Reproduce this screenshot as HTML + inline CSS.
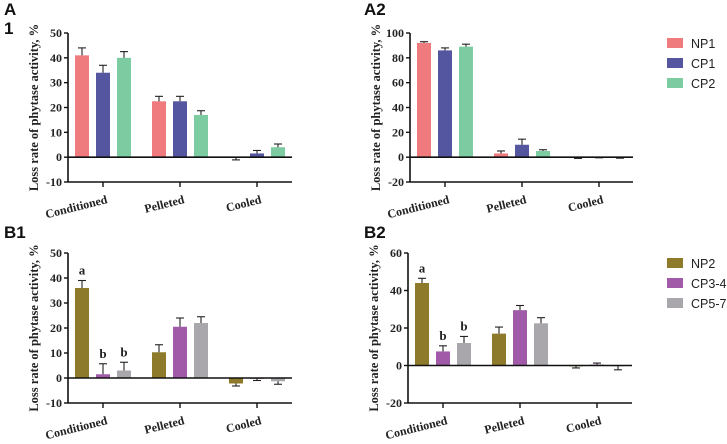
<!DOCTYPE html>
<html><head><meta charset="utf-8">
<style>
html,body{margin:0;padding:0;background:#fff;}
svg{display:block;}
.tk{font:bold 12px "Liberation Serif",serif;fill:#222;}
.yt{font:bold 12.5px "Liberation Serif",serif;fill:#222;}
.pl{font:bold 17px "Liberation Sans",sans-serif;fill:#111;}
.lg{font:12.5px "Liberation Sans",sans-serif;fill:#222;}
</style></head>
<body>
<svg id="chart" width="727" height="444" viewBox="0 0 727 444"></svg>
<script>
const categories = ["Conditioned","Pelleted","Cooled"];
const seriesA = ["NP1","CP1","CP2"];
const colorsA = ["#ef7b7f","#5457a0","#7dcba0"];
const seriesB = ["NP2","CP3-4","CP5-7"];
const colorsB = ["#8e7a2b","#a05aa8","#a9a7ab"];
const a1Values = [[41,22.5,-0.3],[34,22.5,1.5],[40,17,4]];
const a1Errors = [[3,2,0.8],[3,2,1.2],[2.5,1.7,1.3]];
const a2Values = [[92,3,-0.5],[86,10,-0.2],[89,5,-0.5]];
const a2Errors = [[1,2,0.5],[2,4.5,0.3],[2,1,0.3]];
const b1Values = [[36,10.3,-2.2],[1.5,20.5,-0.3],[3,22,-1.3]];
const b1Errors = [[3,3,1],[4.2,3.5,0.7],[3.3,2.5,1.2]];
const b2Values = [[44,17,-0.3],[7.5,29.5,0.5],[12,22.5,-0.3]];
const b2Errors = [[2.5,3.5,1],[3,2.5,0.8],[3.5,3,2]];
const a1Ticks = [-10,0,10,20,30,40,50];
const a2Ticks = [-20,0,20,40,60,80,100];
const b1Ticks = [-10,0,10,20,30,40,50];
const b2Ticks = [-20,0,20,40,60];
const b1Letters = ["a","b","b"];
const b2Letters = ["a","b","b"];

const NS="http://www.w3.org/2000/svg";
const svg=document.getElementById('chart');
function mk(tag,attrs,parent){const e=document.createElementNS(NS,tag);for(const k in attrs)e.setAttribute(k,attrs[k]);(parent||svg).appendChild(e);return e;}

function panel(name,cfg){
  const g=mk('g',{});
  
  
  const ymin=cfg.ticks[0], ymax=cfg.ticks[cfg.ticks.length-1];
  const y=v=>cfg.yTop+(ymax-v)/(ymax-ymin)*(cfg.yBot-cfg.yTop);
  const x=(ci,si)=>cfg.x0+ci*cfg.gap+(si-1)*21;
  const ya=mk('line',{x1:cfg.ax,x2:cfg.ax,y1:cfg.yTop,y2:cfg.yBot,stroke:'#111','stroke-width':1.6},g);
  
  cfg.ticks.forEach(t=>{
    mk('line',{x1:cfg.ax-4,x2:cfg.ax,y1:y(t),y2:y(t),stroke:'#111','stroke-width':1.4},g);
    const tl=mk('text',{x:cfg.ax-6,y:y(t)+4,'text-anchor':'end',class:'tk'},g);tl.textContent=t;
    
  });
  const yt=mk('text',{x:0,y:0,transform:`translate(${cfg.ax-30},${(cfg.yTop+cfg.yBot)/2}) rotate(-90)`,'text-anchor':'middle',class:'yt'},g);
  yt.textContent='Loss rate of phytase activity, %';
  
  cfg.values.forEach((vals,si)=>{
    vals.forEach((v,ci)=>{
      const cx=x(ci,si), y0=y(0), yv=y(v);
      const b=mk('rect',{x:cx-7,y:Math.min(y0,yv),width:14,height:Math.max(Math.abs(y0-yv),0.8),fill:cfg.colors[si]},g);
      
      
      const e=cfg.errors[si][ci], ye=y(v>=0?v+e:v-e);
      mk('line',{x1:cx,x2:cx,y1:yv,y2:ye,stroke:'#222','stroke-width':1.1},g);
      mk('line',{x1:cx-4,x2:cx+4,y1:ye,y2:ye,stroke:'#222','stroke-width':1.1},g);
      if(cfg.letters&&ci===0){
        const lt=mk('text',{x:cx,y:ye-6,'text-anchor':'middle',class:'tk',style:'font-size:13px'},g);
        lt.textContent=cfg.letters[si];
        
      }
    });
  });
  const xa=mk('line',{x1:cfg.ax,x2:cfg.xEnd,y1:y(0),y2:y(0),stroke:'#111','stroke-width':1.6},g);
  
  mk('line',{x1:cfg.ax,x2:cfg.xEnd,y1:cfg.yBot,y2:cfg.yBot,stroke:'#111','stroke-width':1.6},g);
  categories.forEach((c,ci)=>{
    const cx=x(ci,1);
    mk('line',{x1:cx,x2:cx,y1:cfg.yBot,y2:cfg.yBot+5,stroke:'#111','stroke-width':1.4},g);
    const tl=mk('text',{x:0,y:0,transform:`translate(${cx+5},${cfg.yBot+21}) rotate(-14)`,'text-anchor':'end',class:'tk'},g);
    tl.textContent=c;
    
  });
  if(cfg.legendY){
    cfg.series.forEach((s,si)=>{
      const ly=cfg.legendY+si*20;
      const sw=mk('rect',{x:667,y:ly-5,width:16,height:10,fill:cfg.colors[si]},g);
      
      const lt=mk('text',{x:691,y:ly+5,class:'lg'},g);lt.textContent=s;
      
    });
  }
}
function label(t,x,yy){const e=mk('text',{x:x,y:yy,class:'pl'});e.textContent=t;}
label('A',4,15);label('1',4,34);label('A2',364,15);label('B1',4,238);label('B2',364,238);

panel('panel-a1',{ax:68,xEnd:292,yTop:33,yBot:182,x0:103,gap:77,ticks:a1Ticks,values:a1Values,errors:a1Errors,colors:colorsA,series:seriesA});
panel('panel-a2',{ax:410,xEnd:633,yTop:33,yBot:182,x0:445,gap:77,ticks:a2Ticks,values:a2Values,errors:a2Errors,colors:colorsA,series:seriesA,legendY:43});
panel('panel-b1',{ax:68,xEnd:292,yTop:253,yBot:403,x0:103,gap:77,ticks:b1Ticks,values:b1Values,errors:b1Errors,colors:colorsB,series:seriesB,letters:b1Letters});
panel('panel-b2',{ax:408,xEnd:632,yTop:253,yBot:403,x0:443,gap:77,ticks:b2Ticks,values:b2Values,errors:b2Errors,colors:colorsB,series:seriesB,letters:b2Letters,legendY:263});
</script>
</body></html>
